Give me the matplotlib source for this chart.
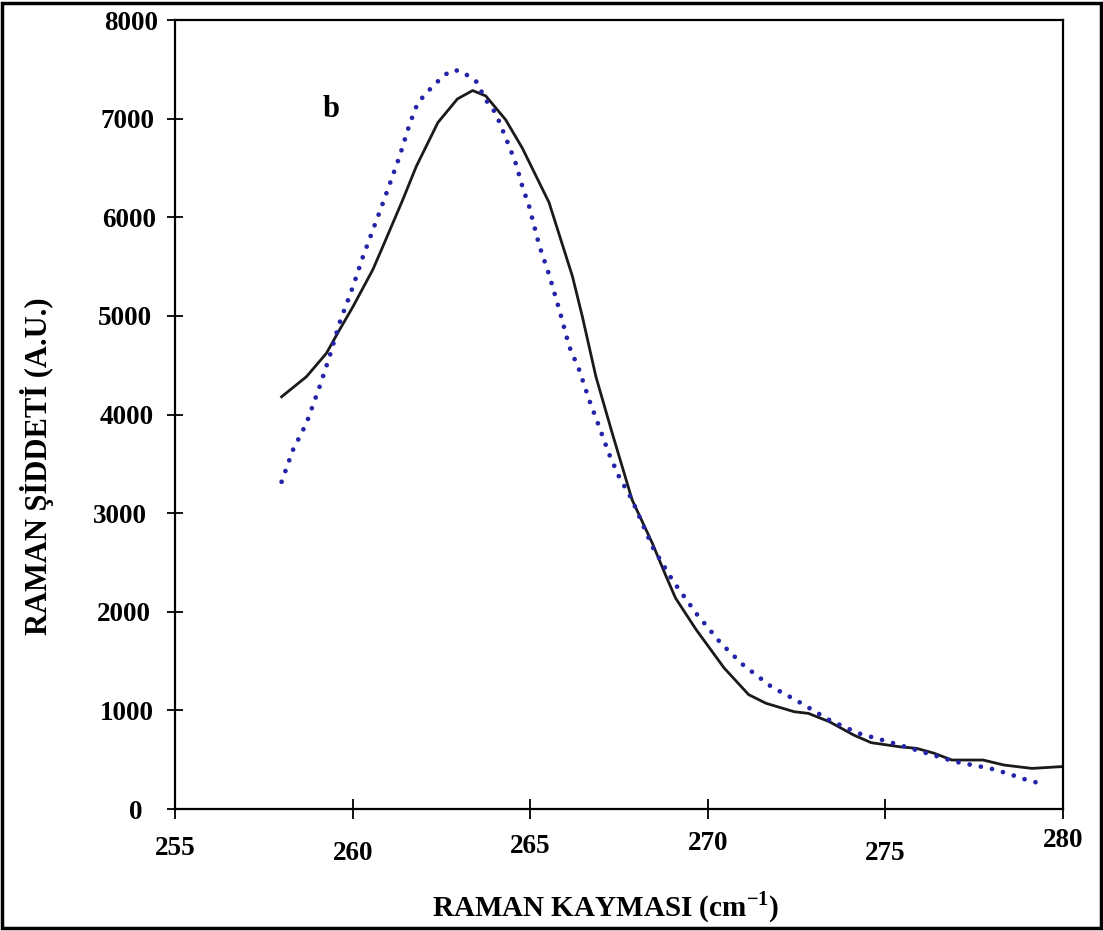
import matplotlib
matplotlib.use("Agg")
import matplotlib.pyplot as plt
from matplotlib.patches import Rectangle

plt.rcParams["font.family"] = ["Liberation Serif", "DejaVu Serif"]
plt.rcParams["font.weight"] = "bold"
plt.rcParams["mathtext.fontset"] = "custom"
plt.rcParams["mathtext.rm"] = "Liberation Serif:bold"
plt.rcParams["mathtext.bf"] = "Liberation Serif:bold"

# measured spectrum (solid black)
shift_meas = [258.0, 258.7, 259.26, 259.63, 260.01, 260.57, 260.85, 261.41, 261.79,
              262.4, 262.95, 263.38, 263.75, 264.31, 264.78, 265.53, 266.19, 266.47,
              266.85, 267.31, 267.87, 268.44, 268.79, 269.09, 269.67, 270.46, 271.15,
              271.64, 272.43, 272.83, 273.42, 274.11, 274.6, 275.39, 275.88, 276.38,
              276.87, 277.75, 278.34, 279.13, 279.9, 280.0]
int_meas = [4180, 4384, 4620, 4858, 5094, 5470, 5703, 6176, 6514,
            6960, 7200, 7285, 7230, 6988, 6700, 6150, 5400, 4990,
            4384, 3810, 3134, 2694, 2390, 2140, 1820, 1430, 1160,
            1072, 987, 970, 886, 750, 673, 632, 615, 565,
            497, 497, 446, 412, 429, 430]

# fitted curve (blue dots)
shift_fit = [258.0, 258.32, 258.7, 259.07, 259.35, 259.63, 260.01, 260.29, 260.85,
             261.32, 261.6, 261.83, 262.07, 262.3, 262.54, 262.77, 263.0, 263.29,
             263.48, 263.75, 264.03, 264.22, 264.41, 264.6, 264.78, 264.97, 265.25,
             265.53, 265.82, 266.1, 266.38, 266.66, 266.94, 267.22, 267.5, 267.87,
             268.44, 269.0, 269.67, 270.37, 271.0, 271.79, 272.48, 273.42, 274.25,
             275.09, 276.03, 276.96, 277.95, 278.44, 279.13, 279.48]
int_fit = [3318, 3641, 3912, 4283, 4587, 4929, 5297, 5600, 6142,
           6615, 6940, 7156, 7258, 7343, 7427, 7488, 7488, 7427,
           7376, 7190, 7055, 6886, 6717, 6540, 6311, 6110, 5720,
           5420, 5061, 4689, 4452, 4148, 3877, 3600, 3370, 3134,
           2660, 2323, 1985, 1680, 1460, 1240, 1105, 903, 767,
           682, 581, 480, 412, 361, 277, 260]

xticks = [255, 260, 265, 270, 275, 280]
yticks = [0, 1000, 2000, 3000, 4000, 5000, 6000, 7000, 8000]

fig = plt.figure(figsize=(11.03, 9.31), dpi=100)
ax = fig.add_axes([0.1587, 0.131, 0.805, 0.8475])

ax.plot(shift_meas, int_meas, color="#1a1a1a", lw=2.0)
ax.plot(shift_fit, int_fit, color="#2424a8", lw=3.4,
        linestyle=(0, (0.01, 2.4)), dash_capstyle="round")

ax.set_xlim(255, 280)
ax.set_ylim(0, 8000)
ax.set_xticks(xticks)
ax.set_yticks(yticks)
ax.tick_params(axis="both", direction="inout", width=1.3, labelsize=19.5,
               top=False, right=False)
ax.tick_params(axis="x", length=14.5)
ax.tick_params(axis="y", length=11)
for sp in ax.spines.values():
    sp.set_linewidth(1.6)

# the scanned tick labels sit at uneven offsets
for tick, p in zip(ax.xaxis.get_major_ticks(), [12, 15.5, 10.5, 8.5, 15.5, 6.5]):
    tick.set_pad(p)
for tick, p in zip(ax.yaxis.get_major_ticks(), [18, 10, 11.8, 14.6, 9.6, 11, 8.2, 9.6, 6.8]):
    tick.set_pad(p)

ax.text(259.14, 7018, "b", fontsize=22, fontweight="bold")

xl = ax.set_xlabel("RAMAN KAYMASI (cm$^{-1}$)", fontsize=21, fontweight="bold")
xl.set_va("center")
ax.xaxis.set_label_coords(0.485, -0.125)
yl = ax.set_ylabel("RAMAN ŞİDDETİ (A.U.)", fontsize=22, fontweight="bold")
yl.set_va("center")
ax.yaxis.set_label_coords(-0.155, 0.435)

fig.patches.append(Rectangle((0.002, 0.003), 0.996, 0.994, transform=fig.transFigure,
                             fill=False, edgecolor="black", lw=2.5))

fig.savefig("out.png", dpi=100)
